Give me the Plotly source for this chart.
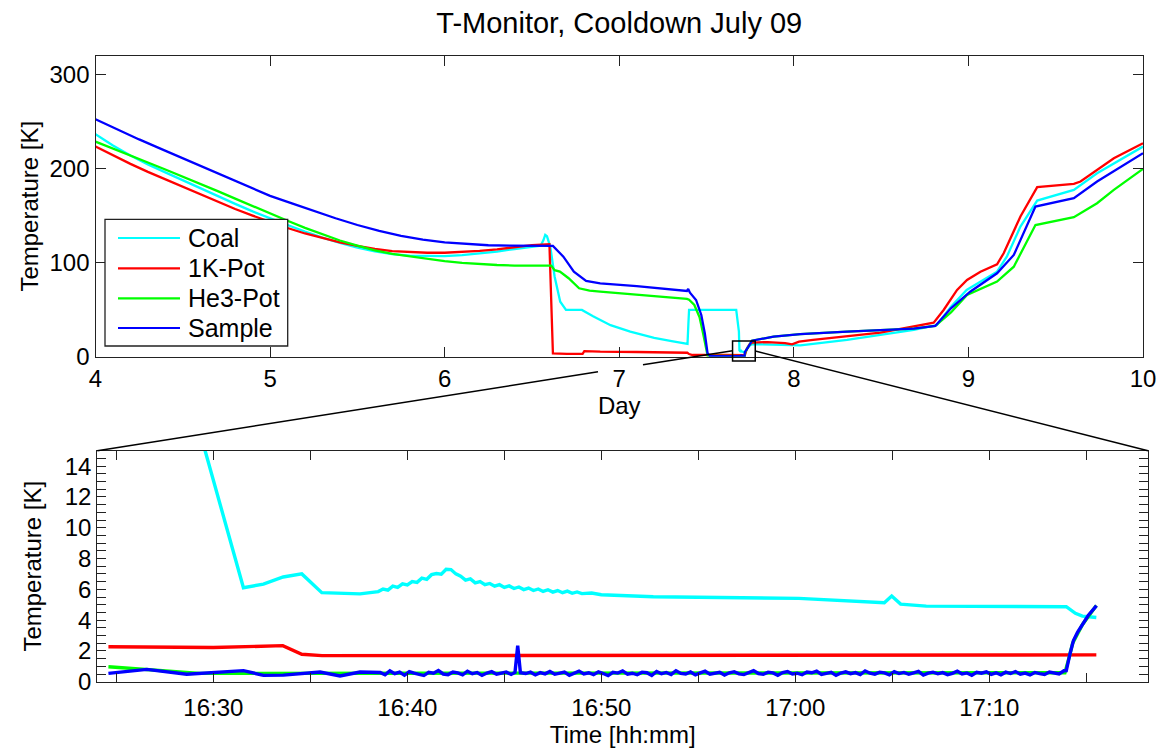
import pandas as pd
import plotly.graph_objects as go

W, H = 1165, 749

# ---------------- top panel: day of cooldown vs temperature ----------------
coal_day_a = [4.00, 4.10, 4.20, 4.30, 4.40, 4.50, 4.60, 4.70, 4.80, 4.90, 5.00, 5.10, 5.20, 5.30, 5.40,
              5.50, 5.60, 5.70, 5.80, 5.90, 6.00, 6.10, 6.20, 6.30, 6.40, 6.50, 6.55, 6.566, 6.576,
              6.586, 6.595, 6.605, 6.63, 6.662, 6.695, 6.786, 6.85, 6.95, 7.063, 7.20, 7.30, 7.391,
              7.396, 7.40, 7.67]
coal_T_a = [236.6, 224.5, 214, 204.5, 196, 187.5, 179, 170.5, 162.5, 154.5, 147, 140, 133, 126.5, 121,
            116, 112, 109, 107.5, 107, 107, 108, 109.5, 111.8, 114.5, 116.8, 118, 124, 129.5,
            128, 123, 117, 85, 58.5, 49.7, 49.7, 43, 33.5, 26.6, 20, 16.5, 13.5,
            35, 49.7, 49.7]
coal_day_b = [7.725, 7.735, 7.76, 7.85, 7.923, 8.037, 8.305, 8.687, 8.82, 8.90, 8.99, 9.164, 9.22, 9.298,
              9.394, 9.604, 9.737, 10.0]
coal_T_b = [6, 10, 13.5, 13, 12.5, 12, 17.8, 28.4, 33.7, 53.2, 71, 90.4, 106.4, 138.3, 166, 177.3, 195, 223.4]

pot_day_a = [4.00, 4.10, 4.20, 4.30, 4.40, 4.50, 4.60, 4.70, 4.80, 4.90, 5.00, 5.10, 5.20, 5.30, 5.40,
             5.50, 5.60, 5.70, 5.80, 5.90, 6.00, 6.10, 6.20, 6.30, 6.40, 6.50, 6.60, 6.612, 6.62, 6.70,
             6.79, 6.80, 6.891, 7.10, 7.39, 7.40, 7.42, 7.60, 7.68]
pot_T_a = [223.4, 214, 205, 196.5, 188.5, 180.5, 172.5, 164.5, 157, 150, 143, 136.8, 131, 126, 121.5,
           117.8, 114.5, 112.3, 111, 110.5, 110.5, 111.2, 112.5, 114.2, 116.2, 118.6, 119.6, 60, 3.6, 2.9,
           3.0, 6.0, 5.3, 5.0, 4.2, 2.8, 1.8, 2.0, 2.2]
pot_day_b = [7.722, 7.73, 7.745, 7.76, 7.85, 7.95, 7.99, 8.03, 8.11, 8.496, 8.801, 8.858, 8.935, 8.992,
             9.069, 9.164, 9.202, 9.298, 9.394, 9.604, 9.642, 9.737, 9.833, 10.0]
pot_T_b = [3, 8, 13, 14.9, 15.6, 14.5, 13.1, 16, 17.8, 25.5, 36.2, 49.7, 71, 81.6,
           90.4, 98.3, 110, 149, 180.2, 183.7, 186.2, 198.6, 211, 227]

he3_day_a = [4.00, 4.10, 4.20, 4.30, 4.40, 4.50, 4.60, 4.70, 4.80, 4.90, 5.00, 5.10, 5.20, 5.30, 5.40,
             5.50, 5.60, 5.70, 5.80, 5.90, 6.00, 6.10, 6.20, 6.30, 6.40, 6.61, 6.63, 6.66, 6.71,
             6.77, 6.83, 6.891, 7.388, 7.40, 7.43, 7.46, 7.48, 7.50, 7.506, 7.60]
he3_T_a = [228.7, 221.5, 214, 206.5, 199, 191.5, 184, 176, 168, 160, 152, 144.5, 137, 130, 123.5,
           118, 113, 109.2, 106.4, 103.8, 101.5, 99.8, 98.5, 97.5, 96.9, 96.8, 92, 90.4, 83.4,
           72.7, 70.2, 69.1, 61.4, 60.5, 55, 42, 25, 5, 1.2, 0.9]
he3_day_b = [7.722, 7.735, 7.76, 7.884, 8.037, 8.305, 8.687, 8.81, 8.90, 8.992, 9.164, 9.26, 9.384,
             9.604, 9.737, 9.833, 10.0]
he3_T_b = [5, 9, 17, 21.3, 24.1, 26.6, 29.8, 32.7, 47, 65.6, 79.8, 95.7, 140, 148.3, 163.2, 177.3, 199.7]

smp_day_a = [4.00, 4.125, 4.25, 4.375, 4.50, 4.625, 4.75, 4.875, 5.00, 5.125, 5.25, 5.375, 5.50, 5.625,
             5.75, 5.875, 6.00, 6.125, 6.25, 6.375, 6.50, 6.62, 6.68, 6.74, 6.81, 6.891, 7.10, 7.388,
             7.395, 7.405, 7.44, 7.47, 7.49, 7.50, 7.506, 7.52, 7.60]
smp_T_a = [252.5, 241.5, 231, 221, 211, 200.5, 190.5, 180.5, 171, 163, 155, 147.2, 140, 133.8,
           128.5, 124.5, 121.5, 119.6, 118.5, 118, 117.8, 117.8, 106.4, 90.4, 80.5, 78, 75, 69.9,
           72, 68, 60.3, 44.4, 24.9, 10, 3.6, 0.6, 0.55]
smp_day_b = [7.735, 7.76, 7.884, 8.037, 8.305, 8.687, 8.81, 8.90, 9.01, 9.164, 9.26, 9.384, 9.604,
             9.737, 10.0]
smp_T_b = [9, 17, 21.3, 24.1, 26.6, 29.8, 32.7, 51.5, 69.1, 88.7, 108.2, 159.6, 168.5, 186.2, 216.4]

# ---------------- bottom panel: minutes after 16:00 on day 7 ----------------
zoom_date = "2009-07-16"
zoom_day_offset = 7 + 16 / 24  # day value of 16:00

coal_min = [27.0, 31.55, 32.58, 33.6, 34.56, 35.59, 37.56, 38.5, 38.75, 39.0, 39.25, 39.5, 39.75, 40.0,
            40.25, 40.5, 40.75, 41.0, 41.25, 41.5, 41.75, 42.0, 42.25, 42.5, 42.75, 43.0, 43.25, 43.5,
            43.75, 44.0, 44.25, 44.5, 44.75, 45.0, 45.25, 45.5, 45.75, 46.0, 46.25, 46.5, 46.75, 47.0,
            47.25, 47.5, 47.75, 48.0, 48.25, 48.5, 48.75, 49.0, 49.5, 50.0, 52.68, 56.43, 60.18, 64.59,
            64.97, 65.43, 66.75, 73.97, 74.44, 74.8, 75.52]
coal_zT = [26.6, 6.1, 6.34, 6.8, 7.0, 5.78, 5.7, 5.85, 6.02, 5.95, 6.2, 6.12, 6.35, 6.28,
           6.5, 6.45, 6.72, 6.65, 6.95, 7.02, 6.98, 7.3, 7.28, 7.0, 6.85, 6.6, 6.68, 6.42,
           6.5, 6.3, 6.38, 6.2, 6.3, 6.12, 6.22, 6.05, 6.15, 5.98, 6.08, 5.92, 6.02, 5.86,
           5.97, 5.82, 5.92, 5.78, 5.88, 5.74, 5.83, 5.72, 5.76, 5.65, 5.52, 5.48, 5.41, 5.13,
           5.56, 5.04, 4.91, 4.87, 4.44, 4.26, 4.17]

pot_min = [24.59, 28.0, 30.0, 33.58, 34.56, 35.6, 45.0, 60.0, 75.52]
pot_zT = [2.27, 2.22, 2.22, 2.34, 1.78, 1.69, 1.7, 1.72, 1.74]

he3_min = [24.59, 27.0, 29.3, 40.0, 50.0, 60.0, 73.9, 74.1, 74.3, 74.8, 75.52]
he3_zT = [0.97, 0.76, 0.54, 0.55, 0.56, 0.55, 0.58, 1.5, 2.5, 3.7, 4.94]

smp_min = [24.59, 26.57, 28.63, 31.55, 32.58, 33.61, 35.5, 36.53, 37.56, 38.6,
           38.85, 39.1, 39.35, 39.6, 39.85, 40.1, 40.35, 40.6, 40.85, 41.1, 41.35, 41.6, 41.85,
           42.1, 42.35, 42.6, 42.85, 43.1, 43.35, 43.6, 43.85, 44.1, 44.35, 44.6, 44.85, 45.1,
           45.35, 45.55, 45.69, 45.83, 46.1, 46.35, 46.6, 46.85, 47.1, 47.35, 47.6, 47.85, 48.1,
           48.35, 48.6, 48.85, 49.1, 49.35, 49.6, 49.85, 50.1, 50.35, 50.6, 50.85, 51.1, 51.35,
           51.6, 51.85, 52.1, 52.35, 52.6, 52.85, 53.1, 53.35, 53.6, 53.85, 54.1, 54.35, 54.6,
           54.85, 55.1, 55.35, 55.6, 55.85, 56.1, 56.35, 56.6, 56.85, 57.1, 57.35, 57.6, 57.85,
           58.1, 58.35, 58.6, 58.85, 59.1, 59.35, 59.6, 59.85, 60.1, 60.35, 60.6, 60.85, 61.1,
           61.35, 61.6, 61.85, 62.1, 62.35, 62.6, 62.85, 63.1, 63.35, 63.6, 63.85, 64.1, 64.35,
           64.6, 64.85, 65.1, 65.35, 65.6, 65.85, 66.1, 66.35, 66.6, 66.85, 67.1, 67.35, 67.6,
           67.85, 68.1, 68.35, 68.6, 68.85, 69.1, 69.35, 69.6, 69.85, 70.1, 70.35, 70.6, 70.85,
           71.1, 71.35, 71.6, 71.85, 72.1, 72.35, 72.6, 72.85, 73.1, 73.35, 73.6, 73.85, 73.97,
           74.16, 74.34, 74.55, 74.81, 75.1, 75.53]
smp_zT = [0.54, 0.8, 0.48, 0.72, 0.41, 0.43, 0.63, 0.37, 0.63, 0.6,
          0.45, 0.7, 0.52, 0.62, 0.42, 0.66, 0.55, 0.48, 0.40, 0.61, 0.55, 0.72, 0.50,
          0.46, 0.63, 0.57, 0.44, 0.68, 0.52, 0.60, 0.41, 0.56, 0.65, 0.49, 0.58, 0.62,
          0.47, 0.60, 2.34, 0.58, 0.53, 0.62, 0.44, 0.59, 0.51, 0.66, 0.48, 0.57, 0.63,
          0.42, 0.55, 0.69, 0.50, 0.58, 0.46, 0.64, 0.53, 0.40, 0.61, 0.56, 0.70, 0.49,
          0.55, 0.45, 0.62, 0.58, 0.41, 0.66, 0.52, 0.60, 0.47, 0.71, 0.54, 0.50, 0.63,
          0.44, 0.57, 0.68, 0.49, 0.55, 0.61, 0.43, 0.58, 0.65, 0.51, 0.46, 0.60, 0.72,
          0.53, 0.48, 0.62, 0.57, 0.42, 0.59, 0.66, 0.50, 0.55, 0.45, 0.63, 0.58, 0.69,
          0.47, 0.54, 0.61, 0.41, 0.56, 0.64, 0.52, 0.59, 0.46, 0.70, 0.55, 0.49, 0.62,
          0.57, 0.44, 0.65, 0.53, 0.60, 0.48, 0.58, 0.67, 0.43, 0.56, 0.62, 0.51, 0.59,
          0.46, 0.54, 0.68, 0.50, 0.57, 0.42, 0.61, 0.55, 0.64, 0.48, 0.58, 0.45, 0.62,
          0.53, 0.66, 0.49, 0.56, 0.44, 0.60, 0.52, 0.47, 0.63, 0.55, 0.50, 0.71, 0.72,
          1.8, 2.67, 3.2, 3.75, 4.3, 4.94]

series_names = ["Coal", "1K-Pot", "He3-Pot", "Sample"]
series_colors = ["#00FFFF", "#FF0000", "#00FF00", "#0000FF"]

top_a = [(coal_day_a, coal_T_a), (pot_day_a, pot_T_a), (he3_day_a, he3_T_a), (smp_day_a, smp_T_a)]
top_b = [(coal_day_b, coal_T_b), (pot_day_b, pot_T_b), (he3_day_b, he3_T_b), (smp_day_b, smp_T_b)]
zoom = [(coal_min, coal_zT), (pot_min, pot_zT), (he3_min, he3_zT), (smp_min, smp_zT)]

FONT = "Liberation Sans, Arial, Helvetica, sans-serif"
AXC = "#222222"

# layout geometry (pixels)
TOP_X = (95.5, 1143.0)
TOP_Y = (55.7, 356.7)
BOT_X = (97.3, 1148.0)
BOT_Y = (450.7, 681.7)
TOP_XR = [4, 10]
TOP_YR = [0, 320]


def px(x):
    return x / W


def py(y):
    return 1 - y / H


fig = go.Figure()
for name, color, (da, ta), (db, tb), (zm, zt) in zip(series_names, series_colors, top_a, top_b, zoom):
    zday = [zoom_day_offset + m / 1440 for m in zm]
    fig.add_trace(go.Scatter(x=list(da) + zday + list(db), y=list(ta) + list(zt) + list(tb),
                             mode="lines", name=name, showlegend=False,
                             line=dict(color=color, width=2.3),
                             xaxis="x", yaxis="y"))
    ztime = pd.Timestamp(zoom_date + " 16:00") + pd.to_timedelta(zm, unit="m")
    fig.add_trace(go.Scatter(x=ztime, y=zt, mode="lines", name=name, showlegend=False,
                             line=dict(color=color, width=3.4), xaxis="x2", yaxis="y2"))

axis_common = dict(showline=True, linecolor=AXC, linewidth=1.3, mirror="allticks",
                   ticks="inside", tickcolor=AXC, tickwidth=1.2, showgrid=False,
                   zeroline=False, automargin=False,
                   tickfont=dict(family=FONT, size=24, color="black"),
                   title_font=dict(family=FONT, size=24, color="black"))

fig.update_layout(
    width=W, height=H, margin=dict(l=0, r=0, t=0, b=0, autoexpand=False),
    paper_bgcolor="white", plot_bgcolor="white",
    font=dict(family=FONT, color="black"),
    title=dict(text="T-Monitor, Cooldown July 09", x=px((TOP_X[0] + TOP_X[1]) / 2), xanchor="center",
               y=py(23), yanchor="middle", font=dict(family=FONT, size=29, color="black")),
    xaxis=dict(axis_common, domain=[px(TOP_X[0]), px(TOP_X[1])], range=TOP_XR, anchor="y",
               tickvals=[4, 5, 6, 7, 8, 9, 10], ticklen=10, title=dict(text="Day", standoff=4)),
    yaxis=dict(axis_common, domain=[py(TOP_Y[1]), py(TOP_Y[0])], range=TOP_YR, anchor="x",
               tickvals=[0, 100, 200, 300], ticklen=10, title=dict(text="Temperature [K]", standoff=4)),
    xaxis2=dict(axis_common, domain=[px(BOT_X[0]), px(BOT_X[1])], anchor="y2", type="date",
                range=[zoom_date + " 16:24:01", zoom_date + " 17:18:11"],
                tick0=zoom_date + " 16:00", dtick=600000, tickformat="%H:%M", ticklen=9,
                ticklabelstandoff=4,
                minor=dict(dtick=300000, ticks="inside", ticklen=9, tickcolor=AXC),
                title=dict(text="Time [hh:mm]", standoff=2)),
    yaxis2=dict(axis_common, domain=[py(BOT_Y[1]), py(BOT_Y[0])], range=[0, 15], anchor="x2",
                dtick=2, tick0=0, ticklen=9,
                minor=dict(dtick=0.5, ticks="inside", ticklen=9, tickcolor=AXC),
                title=dict(text="Temperature [K]", standoff=16)),
    showlegend=False,
)

# ---- legend box (drawn with shapes and text annotations) ----
LEG = dict(x0=105, x1=287.7, y0=219.3, y1=346.0, line_x0=118, line_x1=180, text_x=186,
           rows=[238.0, 268.3, 298.3, 328.0])
fig.add_shape(type="rect", xref="paper", yref="paper", x0=px(LEG["x0"]), x1=px(LEG["x1"]),
              y0=py(LEG["y1"]), y1=py(LEG["y0"]), line=dict(color=AXC, width=1.3),
              fillcolor="white", layer="above")
for name, color, yrow in zip(series_names, series_colors, LEG["rows"]):
    fig.add_shape(type="line", xref="paper", yref="paper", x0=px(LEG["line_x0"]), x1=px(LEG["line_x1"]),
                  y0=py(yrow), y1=py(yrow), line=dict(color=color, width=2.2), layer="above")
    fig.add_annotation(text=name, xref="paper", yref="paper", x=px(LEG["text_x"]), y=py(yrow),
                       xanchor="left", yanchor="middle", showarrow=False,
                       font=dict(family=FONT, size=25, color="black"))


# ---- zoom box and connectors (converted from the top axes to paper) ----
def top_x_to_px(d):
    return TOP_X[0] + (d - TOP_XR[0]) / (TOP_XR[1] - TOP_XR[0]) * (TOP_X[1] - TOP_X[0])


def top_y_to_px(t):
    return TOP_Y[1] - (t - TOP_YR[0]) / (TOP_YR[1] - TOP_YR[0]) * (TOP_Y[1] - TOP_Y[0])


box_x0, box_x1 = top_x_to_px(7.649), top_x_to_px(7.779)
box_y0, box_y1 = top_y_to_px(-4.6), top_y_to_px(16.7)
fig.add_shape(type="rect", xref="paper", yref="paper", x0=px(box_x0), x1=px(box_x1),
              y0=py(box_y0), y1=py(box_y1), line=dict(color="black", width=1.5))

# left connector with a gap behind the "7" tick label
lx0, ly0 = BOT_X[0], BOT_Y[0]
lx1, ly1 = box_x0, top_y_to_px(6.4)
gap = (598.0, 643.0)


def ly(x):
    return ly0 + (x - lx0) / (lx1 - lx0) * (ly1 - ly0)


for xa, xb in [(lx0, gap[0]), (gap[1], lx1)]:
    fig.add_shape(type="line", xref="paper", yref="paper", x0=px(xa), y0=py(ly(xa)),
                  x1=px(xb), y1=py(ly(xb)), line=dict(color="black", width=1.5))

rx0, ry0 = box_x1, top_y_to_px(6.0)
fig.add_shape(type="line", xref="paper", yref="paper", x0=px(rx0), y0=py(ry0),
              x1=px(BOT_X[1]), y1=py(BOT_Y[0]), line=dict(color="black", width=1.5))

fig.write_html("out.html")
